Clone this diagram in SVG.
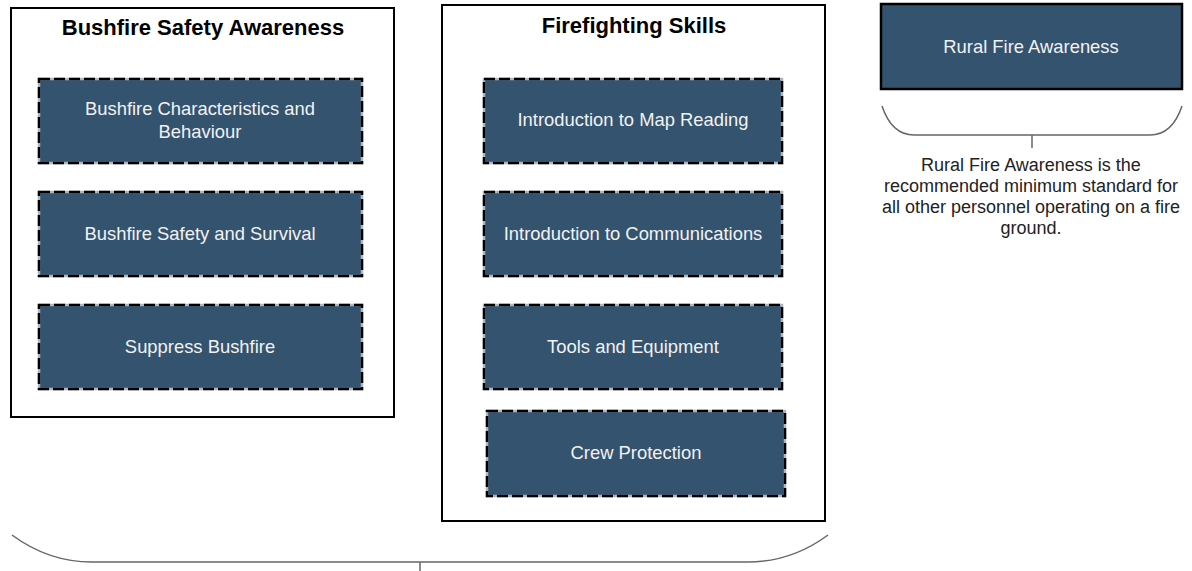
<svg xmlns="http://www.w3.org/2000/svg" width="1192" height="571" viewBox="0 0 1192 571">
<style>
.cont{fill:#fff;stroke:#000;stroke-width:2}
.box{fill:#34536f;stroke:#a9b8c6;stroke-width:2.5}
.dash{fill:none;stroke:#000;stroke-width:2.5;stroke-dasharray:11 4}
.solid{fill:#34536f;stroke:#000;stroke-width:2.5}
.bt{font-family:"Liberation Sans",Arial,sans-serif;font-size:18.4px;fill:#f2f2f2;text-anchor:middle}
.title{font-family:"Liberation Sans",Arial,sans-serif;font-size:22px;font-weight:bold;fill:#000;text-anchor:middle}
.note{font-family:"Liberation Sans",Arial,sans-serif;font-size:18px;fill:#222;text-anchor:middle}
.brace{fill:none;stroke:#666;stroke-width:1.5}
</style>
<rect width="1192" height="571" fill="#fff"/>
<g id="bushfire-safety-awareness">
<rect class="cont" x="11" y="8" width="383" height="409"/>
<text class="title" x="203" y="35">Bushfire Safety Awareness</text>
</g>
<g id="bushfire-characteristics">
<rect class="box" x="39" y="79" width="323" height="84"/><rect class="dash" x="39" y="79" width="323" height="84"/>
<text class="bt" x="200" y="115">Bushfire Characteristics and</text>
<text class="bt" x="200" y="138">Behaviour</text>
</g>
<g id="bushfire-safety-survival">
<rect class="box" x="39" y="192" width="323" height="84"/><rect class="dash" x="39" y="192" width="323" height="84"/>
<text class="bt" x="200" y="240">Bushfire Safety and Survival</text>
</g>
<g id="suppress-bushfire">
<rect class="box" x="39" y="305" width="323" height="84"/><rect class="dash" x="39" y="305" width="323" height="84"/>
<text class="bt" x="200" y="353">Suppress Bushfire</text>
</g>
<g id="firefighting-skills">
<rect class="cont" x="442" y="5" width="383" height="516"/>
<text class="title" x="634" y="33">Firefighting Skills</text>
</g>
<g id="map-reading">
<rect class="box" x="484" y="79" width="298" height="84"/><rect class="dash" x="484" y="79" width="298" height="84"/>
<text class="bt" x="633" y="126">Introduction to Map Reading</text>
</g>
<g id="communications">
<rect class="box" x="484" y="192" width="298" height="84"/><rect class="dash" x="484" y="192" width="298" height="84"/>
<text class="bt" x="633" y="240">Introduction to Communications</text>
</g>
<g id="tools-equipment">
<rect class="box" x="484" y="305" width="298" height="84"/><rect class="dash" x="484" y="305" width="298" height="84"/>
<text class="bt" x="633" y="353">Tools and Equipment</text>
</g>
<g id="crew-protection">
<rect class="box" x="487" y="411" width="298" height="85"/><rect class="dash" x="487" y="411" width="298" height="85"/>
<text class="bt" x="636" y="459">Crew Protection</text>
</g>
<g id="rural-fire-awareness">
<rect class="solid" x="881" y="4" width="301" height="85"/>
<text class="bt" x="1031" y="53">Rural Fire Awareness</text>
</g>
<g id="rural-note">
<text class="note" x="1031" y="171">Rural Fire Awareness is the</text>
<text class="note" x="1031" y="192">recommended minimum standard for</text>
<text class="note" x="1031" y="213">all other personnel operating on a fire</text>
<text class="note" x="1031" y="234">ground.</text>
</g>
<g id="connectors">
<path class="brace" d="M882,106 C888,124 898,135 914,135 L1150,135 C1166,135 1176,124 1182,106"/>
<path class="brace" d="M1032,135 L1032,148"/>
<path class="brace" d="M12,535 C35,552 60,562 92,562 L748,562 C780,562 805,552 828,535"/>
<path class="brace" d="M420,562 L420,571"/>
</g>
</svg>
